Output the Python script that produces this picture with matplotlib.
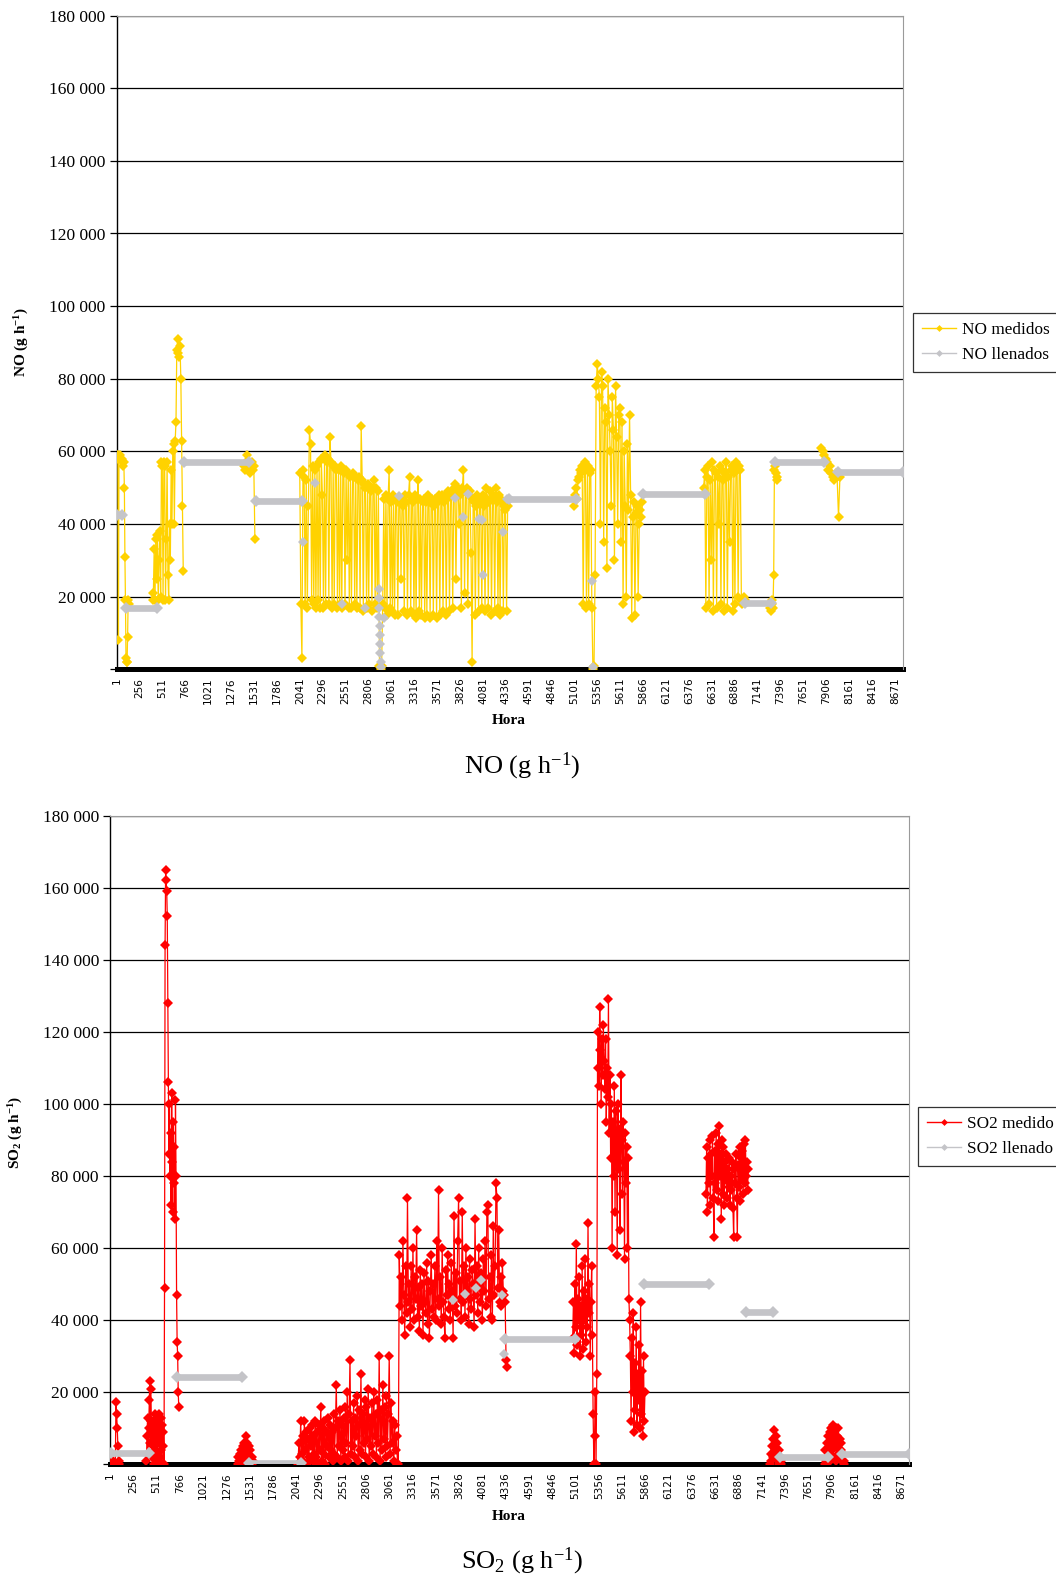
import numpy as np
import matplotlib
matplotlib.use("Agg")
import matplotlib.pyplot as plt
from matplotlib.lines import Line2D
from matplotlib.ticker import FixedLocator, FuncFormatter

# ---------------- DATA (values in thousands of g/h) ----------------
# x-axis category labels (hours)
HOUR_TICKS = list(range(1, 8761, 255))

# ---- NO measured: blocks of consecutive readings (start hour, step, values)
NO_MED_STARTS = [2, 62, 400, 1420, 2040, 5090, 6540, 7280, 7850]
NO_MED_STEPS = [6, 6, 9, 12, 12, 12, 12, 8, 16]
NO_MED_1 = [59, 58, 59, 8, 58, 59]
NO_MED_2 = [58, 57, 56, 57, 50, 31, 19, 3, 2, 2, 9, 19, 18]
NO_MED_3 = [19, 21, 33, 19, 36, 25, 37, 19, 30, 38, 20, 57, 56, 19, 57, 56,
            19, 36, 57, 26, 19, 40, 30, 55, 40, 60, 62, 40, 63, 68, 88, 91,
            87, 86, 89, 80, 63, 45, 27]
NO_MED_4 = [56, 55, 57, 59, 55, 54, 56, 57, 55, 56, 36]
NO_MED_5 = [54, 18, 3, 55, 53, 18, 52, 17, 45, 66,
            62, 19, 56, 18, 55, 17, 56, 19, 57, 17,
            58, 48, 17, 59, 18, 57, 58, 18, 64, 57,
            17, 56, 18, 56, 55, 17, 55, 18, 56, 17,
            55, 54, 18, 55, 30, 54, 17, 53, 17, 54,
            53, 18, 53, 17, 52, 53, 17, 67, 52, 16,
            51, 50, 17, 51, 18, 50, 49, 16, 50, 52,
            18, 50, 17, 49, 1, 0, 1, 18, 47, 17,
            48, 15, 47, 55, 17, 46, 16, 48, 15, 47,
            46, 15, 47, 46, 25, 47, 45, 16, 48, 46,
            15, 48, 53, 16, 47, 46, 15, 48, 14, 47,
            52, 16, 47, 15, 46, 47, 14, 46, 15, 48,
            46, 14, 47, 47, 15, 45, 47, 14, 46, 48,
            15, 47, 48, 16, 46, 48, 15, 47, 49, 16,
            48, 49, 17, 50, 51, 25, 49, 50, 40, 48,
            17, 50, 55, 21, 49, 50, 18, 48, 49, 32,
            2, 47, 46, 15, 45, 48, 16, 47, 46, 17,
            48, 45, 16, 50, 47, 17, 46, 49, 15, 48,
            47, 16, 50, 46, 17, 48, 15, 47, 46, 16,
            45, 44, 16, 45]
NO_MED_6 = [45, 48, 50, 47, 52, 53, 55, 54, 56, 18, 55, 57, 17, 56, 18, 54, 55, 17,
            0, 1, 26,
            78, 84, 80, 75, 40, 82, 78, 35, 72, 68, 28, 80, 70, 60, 45,
            75, 66, 30, 78, 64, 40, 70, 72, 35, 68, 18, 60, 45, 20, 62, 44, 70,
            48, 14, 42, 46, 15, 43, 45, 20, 40, 44, 42, 46]
NO_MED_7 = [50, 55, 17, 53, 56, 18, 52, 30, 57, 16, 55, 54, 17, 53, 40, 56, 18,
            55, 52, 16, 54, 57, 17, 53, 35, 55, 56, 16, 54, 18, 57, 55, 20, 56,
            55, 19, 18, 20, 19]
NO_MED_8 = [17, 16, 18, 19, 17, 26, 55, 56, 54, 53, 52]
NO_MED_9 = [61, 60, 59, 58, 57, 55, 56, 54, 53, 52, 54, 53, 42, 53]

# ---- NO filled: constant stretches (start hour, end hour, value)
NO_FILL_START = [8, 100, 745, 1550, 4370, 5860, 7000, 7330, 8040]
NO_FILL_END = [65, 450, 1470, 2060, 5120, 6560, 7290, 7880, 8760]
NO_FILL_VAL = [42.4, 17.0, 57.2, 46.3, 46.8, 48.2, 18.3, 57.0, 54.4]
# ---- NO filled: isolated filled hours
NO_FILL_PT_H = [2080, 2210, 2507, 2767, 2918, 2921, 2924, 2927, 2930, 2933,
                2936, 2939, 2942, 2945, 2983, 3150, 3770, 3863, 3919, 4038,
                4068, 4079, 4302, 4347, 5294, 5312]
NO_FILL_PT_V = [35.1, 51.4, 18.0, 16.8, 22, 19.5, 17, 14.5, 12, 9.5,
                7, 4.5, 2, 0.5, 14, 47.7, 47.3, 42, 48.2, 41.3,
                41, 26, 37.9, 46.8, 24.3, 0.7]

# ---- SO2 measured blocks
SO2_MED_STARTS = [10, 400, 1400, 2060, 3160, 5070, 6530, 7230, 7830]
SO2_MED_STEPS = [7, 6, 8, 10, 10, 8, 8, 8, 8]
SO2_MED_1 = [0, 1, 0, 0, 1, 0, 0, 0, 17.4, 14, 10, 5, 1, 0]
SO2_MED_2 = [1, 8, 13, 3, 10, 18, 23, 6, 21, 12,
             2, 9, 5, 11, 0, 14, 7, 3, 13, 8,
             1, 12, 6, 14, 2, 10, 4, 13, 0, 11,
             5, 9, 0, 49, 144, 165, 162, 159, 152, 128,
             106, 86, 100, 80, 92, 72, 103, 84, 70, 95,
             78, 88, 68, 101, 80, 47, 34, 30, 20, 16]
SO2_MED_3 = [0, 2, 1, 3, 0, 4, 2, 5, 1, 6, 3, 8, 2, 6, 1, 5, 0, 4, 1, 2, 0, 1]
SO2_MED_4 = [0, 6, 2, 12, 3, 8, 1, 12, 4, 9,
             0, 7, 2, 10, 5, 11, 1, 8, 3, 12,
             2, 9, 0, 11, 4, 16, 1, 10, 3, 12,
             0, 9, 5, 13, 2, 11, 4, 9, 1, 14,
             3, 10, 22, 2, 12, 5, 15, 1, 11, 4,
             13, 2, 16, 6, 20, 1, 14, 29, 3, 12,
             5, 17, 2, 13, 8, 19, 1, 15, 4, 25,
             3, 14, 6, 18, 2, 16, 7, 21, 1, 13,
             5, 17, 3, 20, 8, 14, 2, 18, 6, 30,
             1, 15, 4, 22, 7, 16, 2, 19, 5, 14,
             30, 3, 17, 6, 12, 1, 11, 4, 8, 0]
SO2_MED_5 = [0, 58, 44, 52, 40, 62, 47, 36, 55, 42,
             74, 45, 50, 38, 55, 43, 60, 40, 52, 46,
             65, 41, 49, 37, 54, 44, 50, 36, 53, 45,
             42, 56, 39, 51, 35, 48, 58, 43, 50, 41,
             55, 40, 62, 46, 76, 44, 52, 39, 60, 45,
             41, 35, 54, 47, 58, 43, 50, 40, 56, 48,
             35, 69, 44, 53, 42, 62, 74, 46, 51, 40,
             70, 45, 55, 41, 60, 48, 52, 39, 57, 46,
             43, 54, 50, 38, 68, 47, 55, 42, 60, 49,
             45, 53, 40, 57, 48, 62, 44, 70, 72, 46,
             52, 41, 58, 40, 66, 47, 55, 78, 74, 49,
             65, 45, 52, 44, 56, 48, 47, 45, 29, 27]
SO2_MED_6 = [35, 45, 31, 50, 38, 61, 33, 46, 40, 52,
             30, 44, 36, 55, 32, 48, 40, 57, 34, 46,
             38, 67, 42, 50, 30, 45, 55, 36, 14, 0,
             8, 20, 0, 25, 110, 120, 105, 127, 115, 100,
             118, 108, 122, 112, 104, 118, 95, 110, 102, 129,
             92, 108, 85, 100, 60, 95, 80, 105, 70, 98,
             88, 58, 100, 82, 93, 65, 108, 90, 75, 95,
             84, 57, 92, 78, 88, 60, 85, 46, 40, 30,
             12, 35, 20, 42, 9, 28, 15, 38, 11, 25,
             18, 33, 10, 45, 14, 26, 8, 30, 12, 20]
SO2_MED_7 = [75, 88, 70, 85, 78, 90, 72, 86, 80, 91,
             74, 63, 87, 78, 92, 76, 89, 73, 94, 80,
             86, 68, 90, 75, 88, 72, 84, 79, 86, 74,
             82, 77, 85, 72, 80, 76, 84, 71, 63, 82,
             78, 86, 74, 63, 83, 77, 88, 73, 85, 79,
             87, 75, 89, 78, 90, 80, 84, 76, 82]
SO2_MED_8 = [0, 3, 1, 5, 2, 7, 9.5, 4, 8, 2, 6, 1, 4, 0, 2, 1, 0]
SO2_MED_9 = [0, 4, 1, 6, 2, 8, 3, 9, 1, 10, 4, 11, 2, 9, 5, 10, 1, 8, 3, 10,
             2, 7, 4, 6, 1, 3, 0, 1]

# ---- SO2 filled
SO2_FILL_START = [10, 730, 1520, 4330, 5850, 6970, 7340, 8020]
SO2_FILL_END = [430, 1450, 2090, 5100, 6560, 7270, 7870, 8760]
SO2_FILL_VAL = [3.1, 24.3, 0.5, 34.8, 50.0, 42.3, 2.1, 2.8]
SO2_FILL_PT_H = [3759, 3887, 4015, 4070, 4297, 4314]
SO2_FILL_PT_V = [45.6, 47.4, 49.0, 51.1, 47.0, 30.5]

# ---------------- STYLE ----------------
YELLOW = "#FFD200"
RED = "#FF0000"
GRAY = "#C4C4C8"
SERIF = ["Liberation Serif", "DejaVu Serif"]
plt.rcParams["mathtext.fontset"] = "custom"
plt.rcParams["mathtext.rm"] = "Liberation Serif"
plt.rcParams["mathtext.it"] = "Liberation Serif:italic"
plt.rcParams["mathtext.bf"] = "Liberation Serif:bold"

W, H = 1056, 1580
fig = plt.figure(figsize=(W / 100, H / 100), dpi=100)


def build(starts, steps, blocks):
    xs, ys = [], []
    for s, st, vals in zip(starts, steps, blocks):
        xs.append(s + st * np.arange(len(vals)))
        ys.append(np.asarray(vals, float) * 1000)
        xs.append([np.nan])
        ys.append([np.nan])
    return np.concatenate(xs), np.concatenate(ys)


def fmt(v, pos):
    if v <= 0:
        return ""
    return f"{int(round(v)):,}".replace(",", " ")


def panel(rect, med_x, med_y, color, f_start, f_end, f_val, p_h, p_v,
          leg_labels, leg_anchor):
    ax = fig.add_axes(rect)
    ax.set_xlim(0.5, 8760.5)
    ax.set_ylim(0, 180000)
    ax.yaxis.set_major_locator(FixedLocator(np.arange(0, 180001, 20000)))
    ax.yaxis.set_major_formatter(FuncFormatter(fmt))
    for v in np.arange(20000, 180001, 20000):
        ax.axhline(v, color="black", lw=0.9, zorder=1)
    ax.plot(med_x, med_y, color=color, lw=0.9, marker="D", ms=5.3, mew=0,
            zorder=3, solid_joinstyle="miter")
    for s, e, v in zip(f_start, f_end, f_val):
        ax.plot([s, e], [v * 1000, v * 1000], color=GRAY, lw=4.8,
                solid_capstyle="butt", marker="D", ms=6.5, mew=0, zorder=4)
    ax.plot(p_h, np.asarray(p_v) * 1000, ls="none", color=GRAY, marker="D",
            ms=5.5, mew=0, zorder=4)
    ax.set_xticks(HOUR_TICKS)
    ax.set_xticklabels([str(t) for t in HOUR_TICKS], rotation=90,
                       fontsize=7.6, family="DejaVu Sans")
    ax.tick_params(axis="x", length=0, pad=6)
    ax.tick_params(axis="y", direction="out", length=5, width=0.9,
                   labelsize=12.5, pad=3)
    for lab in ax.get_yticklabels():
        lab.set_family(SERIF)
    ax.spines["top"].set_color("#9A9A9A")
    ax.spines["right"].set_color("#9A9A9A")
    ax.spines["left"].set_linewidth(1.0)
    ax.spines["bottom"].set_linewidth(3.6)
    ax.spines["bottom"].set_zorder(2)
    handles = [Line2D([], [], color=color, lw=1, marker="D", ms=3.5, mew=0),
               Line2D([], [], color=GRAY, lw=1, marker="D", ms=3.5, mew=0)]
    leg = fig.legend(handles, leg_labels, loc="upper left",
                     bbox_to_anchor=leg_anchor, frameon=True, fancybox=False,
                     prop={"family": SERIF, "size": 12.4}, handlelength=2.0,
                     handletextpad=0.35, borderpad=0.5, labelspacing=0.55,
                     borderaxespad=0)
    leg.get_frame().set_edgecolor("black")
    leg.get_frame().set_linewidth(0.9)
    return ax


# ---- top panel (NO)
nx, ny = build(NO_MED_STARTS, NO_MED_STEPS,
               [NO_MED_1, NO_MED_2, NO_MED_3, NO_MED_4, NO_MED_5, NO_MED_6,
                NO_MED_7, NO_MED_8, NO_MED_9])
panel([116.7 / W, 1 - 669.3 / H, (903 - 116.7) / W, (669.3 - 15.6) / H],
      nx, ny, YELLOW, NO_FILL_START, NO_FILL_END, NO_FILL_VAL,
      NO_FILL_PT_H, NO_FILL_PT_V, ["NO medidos", "NO llenados"],
      (913 / W, 1 - 313 / H))

# ---- bottom panel (SO2)
sx, sy = build(SO2_MED_STARTS, SO2_MED_STEPS,
               [SO2_MED_1, SO2_MED_2, SO2_MED_3, SO2_MED_4, SO2_MED_5,
                SO2_MED_6, SO2_MED_7, SO2_MED_8, SO2_MED_9])
panel([110 / W, 1 - 1464.4 / H, (909.5 - 110) / W, (1464.4 - 815.5) / H],
      sx, sy, RED, SO2_FILL_START, SO2_FILL_END, SO2_FILL_VAL,
      SO2_FILL_PT_H, SO2_FILL_PT_V, ["SO2 medido", "SO2 llenado"],
      (918 / W, 1 - 1107 / H))

# ---- texts
fig.text(22 / W, 1 - 342 / H, r"NO (g h$^{\mathbf{-1}}$)", rotation=90,
         ha="center", va="center", family=SERIF, fontweight="bold", fontsize=11)
fig.text(16 / W, 1 - 1132 / H, r"SO$_{\mathbf{2}}$ (g h$^{\mathbf{-1}}$)",
         rotation=90, ha="center", va="center", family=SERIF,
         fontweight="bold", fontsize=11)
fig.text(509 / W, 1 - 721 / H, "Hora", ha="center", va="center",
         family=SERIF, fontweight="bold", fontsize=11)
fig.text(509 / W, 1 - 1517 / H, "Hora", ha="center", va="center",
         family=SERIF, fontweight="bold", fontsize=11)
fig.text(522 / W, 1 - 766 / H, r"NO (g h$^{-1}$)", ha="center", va="center",
         family=SERIF, fontsize=19)
fig.text(522 / W, 1 - 1561 / H, r"SO$_2$ (g h$^{-1}$)", ha="center",
         va="center", family=SERIF, fontsize=19)

fig.savefig("out.png", dpi=100, facecolor="white")
